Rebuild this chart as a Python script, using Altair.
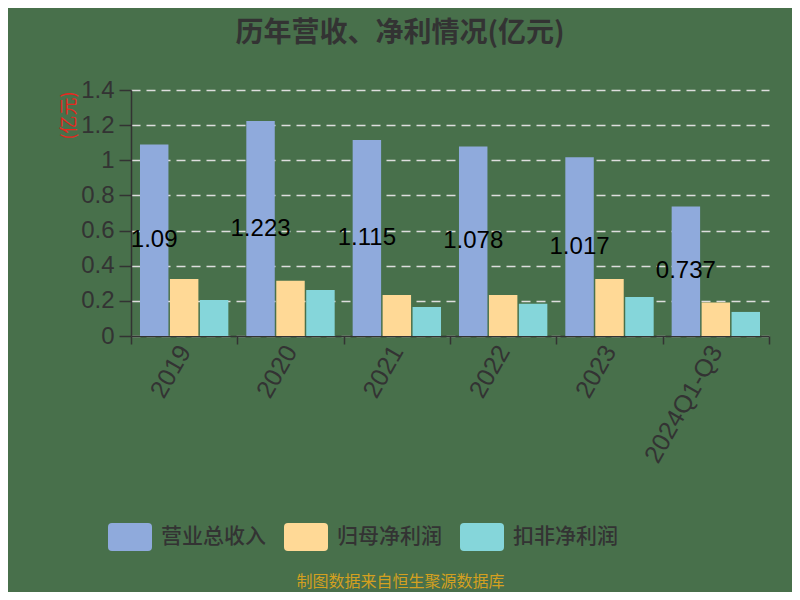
import altair as alt
import pandas as pd

years = ["2019", "2020", "2021", "2022", "2023", "2024Q1-Q3"]
series_names = ["营业总收入", "归母净利润", "扣非净利润"]
revenue = [1.09, 1.223, 1.115, 1.078, 1.017, 0.737]
net_profit = [0.324, 0.315, 0.233, 0.233, 0.324, 0.19]
deducted = [0.205, 0.262, 0.165, 0.184, 0.222, 0.137]
colors = ["#8faadc", "#ffd996", "#85d6da"]
y_ticks = [0, 0.2, 0.4, 0.6, 0.8, 1, 1.2, 1.4]

rows = []
for i, yr in enumerate(years):
    for name, vals in zip(series_names, [revenue, net_profit, deducted]):
        rows.append({"year": yr, "series": name, "value": vals[i]})
df = pd.DataFrame(rows)

FONT = "Liberation Sans, Noto Sans CJK SC, sans-serif"
CJK = "Noto Sans CJK SC, sans-serif"
DARK = "#333333"
BG = "#48704b"

rr = ("M-0.82,-0.636 L0.82,-0.636 Q1,-0.636 1,-0.456 L1,0.456 Q1,0.636 0.82,0.636 "
      "L-0.82,0.636 Q-1,0.636 -1,0.456 L-1,-0.456 Q-1,-0.636 -0.82,-0.636 Z")

x_enc = alt.X(
    "year:N", sort=years,
    scale=alt.Scale(paddingInner=0, paddingOuter=0),
    axis=alt.Axis(
        title="制图数据来自恒生聚源数据库", titleColor="#d4a020", titleFont=CJK,
        titleFontSize=16, titleFontWeight="normal", titleX=269, titleY=245,
        titleAlign="center", titleBaseline="middle", titleAnchor="start",
        labelAngle=-60, labelAlign="right", labelBaseline="middle",
        labelFontSize=25, labelColor=DARK, labelFont=FONT, labelPadding=3,
        tickBand="extent", tickSize=8, tickColor=DARK, tickWidth=1.5,
        domainColor=DARK, domainWidth=1.5, grid=False,
    ),
)
xoff_enc = alt.XOffset("series:N", sort=series_names,
                       scale=alt.Scale(domain=series_names, paddingInner=0.05, paddingOuter=0.3))

y_axis = alt.Axis(
    values=y_ticks, format="~g", title="(亿元)", titleColor="#e8261e",
    titleFont=CJK, titleFontSize=18, titleFontWeight="normal",
    titleX=-62, titleY=25, titleAngle=-90, titleAlign="center",
    titleBaseline="middle", titleAnchor="start",
    labelFontSize=24, labelColor=DARK, labelFont=FONT, labelPadding=5,
    tickSize=12, tickColor=DARK, tickWidth=1.5,
    domainColor=DARK, domainWidth=1.5,
    grid=True, gridColor="#dddddd", gridDash=[9, 6], gridWidth=1.5,
)
y_scale = alt.Scale(domain=[0, 1.4], nice=False)

bars = alt.Chart(df).mark_bar().encode(
    x=x_enc,
    xOffset=xoff_enc,
    y=alt.Y("value:Q", scale=y_scale, axis=y_axis),
    color=alt.Color(
        "series:N", sort=series_names,
        scale=alt.Scale(domain=series_names, range=colors),
        legend=alt.Legend(
            title=None, orient="none", legendX=-23, legendY=425,
            direction="horizontal", symbolType=rr, symbolSize=1936,
            symbolStrokeWidth=0, symbolOpacity=1, labelFontSize=21,
            labelFontWeight=500,
            labelColor=DARK, labelFont=CJK, labelOffset=9, columnPadding=18,
            padding=0,
        ),
    ),
)

labels = alt.Chart(df).transform_filter(
    alt.datum.series == "营业总收入"
).transform_calculate(
    half="datum.value / 2"
).mark_text(fontSize=24, color="black", font=FONT, baseline="middle").encode(
    x=x_enc,
    xOffset=xoff_enc,
    y=alt.Y("half:Q", scale=y_scale, axis=y_axis),
    text=alt.Text("value:Q"),
)

chart = alt.layer(bars, labels).properties(
    width=638, height=246,
    title=alt.TitleParams(
        "历年营收、净利情况(亿元)", font=CJK, fontSize=28, fontWeight="bold",
        color=DARK, anchor="middle", dx=-50, offset=30,
    ),
    autosize=alt.AutoSizeParams(type="none"),
    padding={"left": 123, "top": 82, "right": 23, "bottom": 256},
    background=BG,
).configure_view(stroke=None)

chart.save("out.html", embed_options={"renderer": "svg", "actions": False})
